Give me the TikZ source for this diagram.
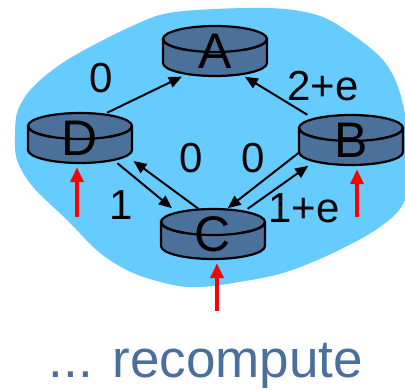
\documentclass[tikz,border=0pt]{standalone}
\usepackage{fontspec}
\setmainfont{Liberation Sans}
\usetikzlibrary{shapes.geometric,arrows.meta,positioning}
\definecolor{cloud}{HTML}{66CCFF}
\definecolor{routerblue}{HTML}{4B7099}
\definecolor{slate}{HTML}{4A6F9C}
\tikzset{
  routerbody/.style={draw=black, line width=2.2pt, fill=routerblue},
  router/.style={rectangle, minimum width=105pt, minimum height=50pt, inner sep=0pt, font=\fontsize{50}{50}\selectfont},
  link/.style={line width=2pt, shorten >=1pt, -{Triangle[length=13pt,width=11pt]}},
  update/.style={line width=3.6pt, red, shorten >=4pt, -{Triangle[length=15pt,width=13pt]}},
  cost/.style={font=\fontsize{42}{42}\selectfont}
}
\newcommand{\router}[4]{%
  \filldraw[routerbody] (#2-52,#3-12) -- (#2-52,#3+12) arc[start angle=180,end angle=360,x radius=52pt,y radius=13pt] -- (#2+52,#3-12) -- cycle;
  \filldraw[routerbody] (#2,#3-12) ellipse[x radius=52pt,y radius=13pt];
  \fill[routerblue] (#2-50,#3-12) rectangle (#2+50,#3-11);
  \draw[line width=2.2pt] (#2-52,#3-12) arc[start angle=180,end angle=238,x radius=52pt,y radius=13pt];
  \draw[line width=2.2pt] (#2+52,#3-12) arc[start angle=360,end angle=302,x radius=52pt,y radius=13pt];
  \node[router] (#1) at (#2,#3) {#4};
}

\begin{document}
\begin{tikzpicture}[x=1pt, y=-1pt]
\useasboundingbox (0,0) rectangle (405,390);
\fill[cloud] plot[smooth cycle, tension=0.55] coordinates {(175,12) (267,8) (317,15) (350,33) (383,60) (400,93) (410,150) (405,200) (380,227) (333,253) (283,273) (233,283) (200,287) (173,285) (133,273) (100,253) (67,220) (33,187) (17,160) (15,133) (18,110) (33,87) (67,60) (130,27)};

\router{A}{215}{51}{A}
\router{D}{80}{138}{D}
\router{B}{351}{140}{B}
\router{C}{213}{234}{C}

\draw[link] (D.43) -- (A.218);
\draw[link] (B.150) -- (A.-41);
\draw[link] (D.-34) -- (C.148);
\draw[link] (C.120) -- (D.-23);
\draw[link] (B.194) -- (C.61);
\draw[link] (C.36) -- (B.211);

\node[cost] (cDA) at (101,78) {0};
\node[cost] (cBA) at (323,86) {2+e};
\node[cost] (cCD) at (191,158) {0};
\node[cost] (cBC) at (253,158) {0};
\node[cost] (cDC) at (121,205) {1};
\node[cost] (cCB) at (304,208) {1+e};

\coordinate (dIn) at (77,217);
\coordinate (bIn) at (357,217);
\coordinate (cIn) at (217,311);
\draw[update] (dIn) -- (dIn |- D.south);
\draw[update] (bIn) -- (bIn |- B.south);
\draw[update] (cIn) -- (cIn |- C.south);

\node[font=\fontsize{53}{53}\selectfont, text=slate, anchor=base] (caption) at (206,378) {... recompute};
\end{tikzpicture}
\end{document}
